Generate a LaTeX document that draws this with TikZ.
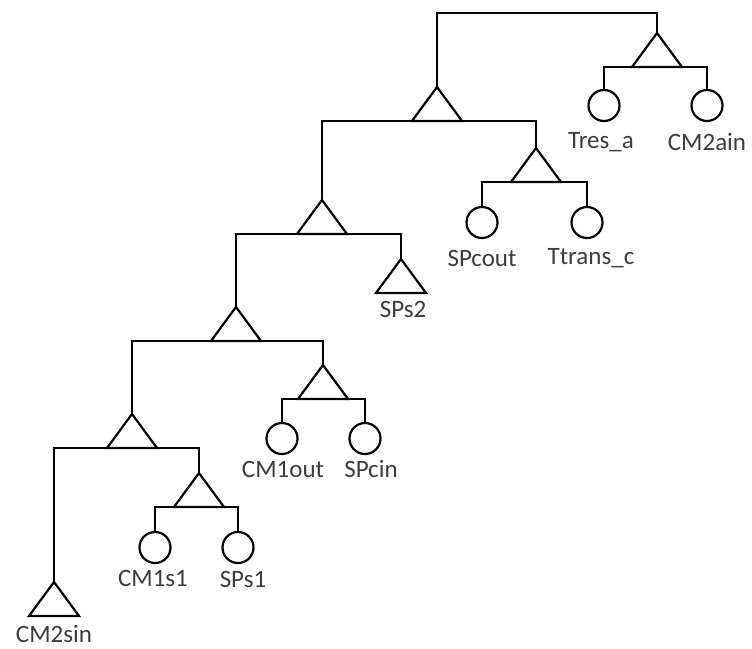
\documentclass[tikz,border=0pt]{standalone}
\usepackage{fontspec}
\setmainfont{Carlito}
\usetikzlibrary{calc}
\definecolor{txt}{RGB}{60,60,60}
\begin{document}
\begin{tikzpicture}[x=1pt,y=-1pt,
  line width=2.2pt,
  leaf/.style={circle,draw,minimum size=31pt,inner sep=0pt,outer sep=0pt},
  lbl/.style={font=\fontsize{25}{28}\selectfont,text=txt,inner sep=0pt},
  tri/.style={line join=miter}]
\useasboundingbox (0,0) rectangle (752,648);
% triangle apexes
\coordinate (Tr) at (657,33);
\coordinate (T1) at (437,87);
\coordinate (T3) at (536,148);
\coordinate (T2) at (322,200);
\coordinate (S2) at (401,259);
\coordinate (T4) at (236,307);
\coordinate (T5) at (323,365);
\coordinate (T6) at (132,414);
\coordinate (T7) at (199,473);
\coordinate (S1) at (54,582);
\foreach \t in {Tr,T1,T3,T2,S2,T4,T5,T6,T7,S1}{
  \draw[tri] (\t) -- ++(-25,34) -- ++(50,0) -- cycle;
  \coordinate (\t b) at ($(\t)+(0,34)$);
}
% root
\coordinate (R) at (547,13);
\draw (T1) |- (R) -| (Tr);
% leaves
\node[leaf,anchor=north] (tres) at (604,90) {};
\node[leaf,anchor=north] (cm2ain) at (707,90) {};
\node[leaf,anchor=north] (spcout) at (482,207) {};
\node[leaf,anchor=north] (ttrans) at (587,207) {};
\node[leaf,anchor=north] (cm1out) at (282,423) {};
\node[leaf,anchor=north] (spcin) at (365,423) {};
\node[leaf,anchor=north] (cm1s1) at (155,532) {};
\node[leaf,anchor=north] (sps1) at (238,532) {};
% labels
\node[lbl] (ltres) at ($(tres.north)+(-3,52)$) {Tres\_a};
\node[lbl] (lcm2ain) at ($(cm2ain.north)+(0,52)$) {CM2ain};
\node[lbl] (lspcout) at ($(spcout.north)+(0,51)$) {SPcout};
\node[lbl] (lttrans) at ($(ttrans.north)+(4,51)$) {Ttrans\_c};
\node[lbl] (lcm1out) at ($(cm1out.north)+(1,46)$) {CM1out};
\node[lbl] (lspcin) at ($(spcin.north)+(6,46)$) {SPcin};
\node[lbl] (lcm1s1) at ($(cm1s1.north)+(-2,46)$) {CM1s1};
\node[lbl] (lsps1) at ($(sps1.north)+(5,47)$) {SPs1};
\node[lbl] (lsps2) at ($(S2b)+(2,16)$) {SPs2};
\node[lbl] (lcm2sin) at ($(S1b)+(0,18)$) {CM2sin};
% connectors
\draw (tres.north) |- (Trb) -| (cm2ain.north);
\draw (T2) |- (T1b) -| (T3);
\draw (spcout.north) |- (T3b) -| (ttrans.north);
\draw (T4) |- (T2b) -| (S2);
\draw (T6) |- (T4b) -| (T5);
\draw (cm1out.north) |- (T5b) -| (spcin.north);
\draw (S1) |- (T6b) -| (T7);
\draw (cm1s1.north) |- (T7b) -| (sps1.north);
\end{tikzpicture}
\end{document}
